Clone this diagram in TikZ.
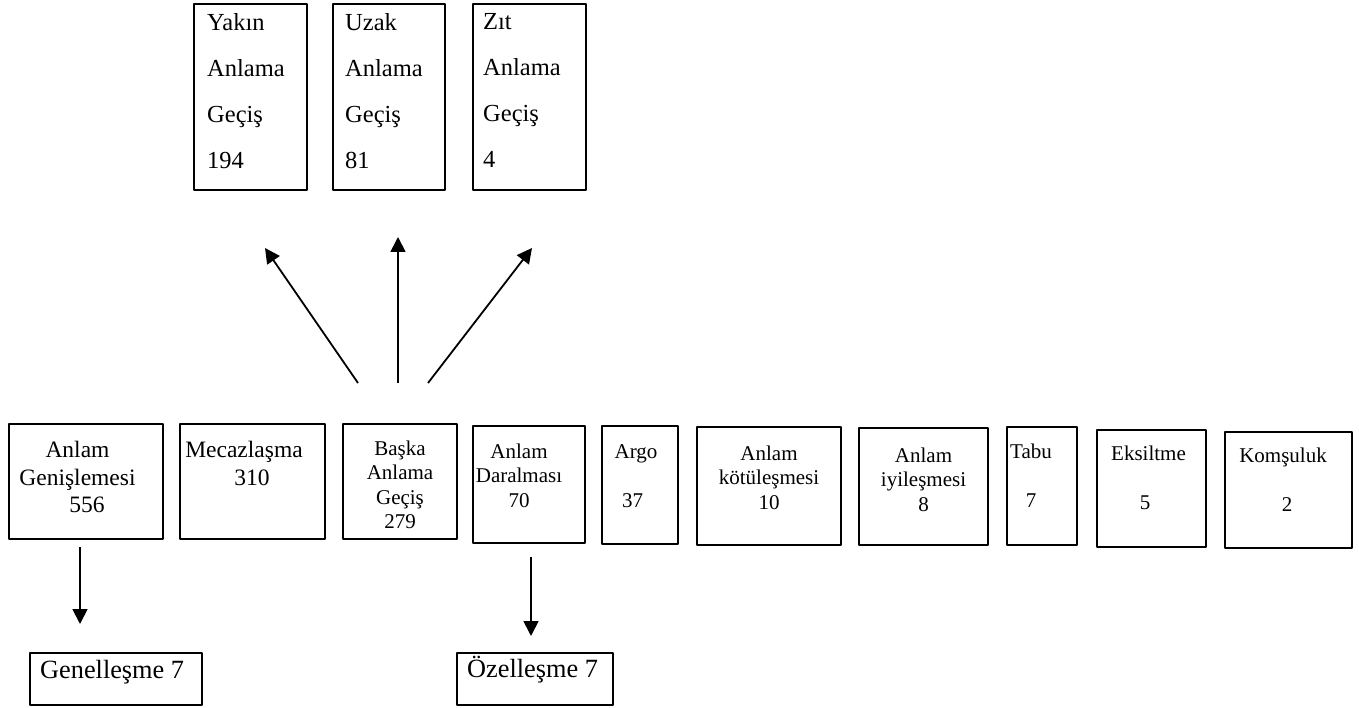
\documentclass[tikz,border=0pt]{standalone}
\usepackage{fontspec}
\setmainfont{Liberation Serif}
\usetikzlibrary{arrows.meta}

\begin{document}
\begin{tikzpicture}[x=1pt, y=-1pt, line join=round, >={Triangle[width=15pt,length=15pt]},
	kutu/.style={draw, line width=1.8pt, inner sep=0pt, outer sep=0pt, anchor=north west},
	ince/.style={kutu, line width=1.2pt},
	yazi/.style={inner sep=0pt, anchor=north, align=center, font=\fontsize{21}{24.5}\selectfont},
	buyuk/.style={yazi, font=\fontsize{23.5}{27.5}\selectfont},
	ust/.style={inner sep=0pt, anchor=north west, align=left, font=\fontsize{24.5}{46}\selectfont},
	alt/.style={inner sep=0pt, anchor=north west, font=\fontsize{26.3}{30}\selectfont},
	ok/.style={->, line width=1.8pt}]
	\useasboundingbox (0,0) rectangle (1359,708);
	%\draw[gray!40] (0,0) grid[step=50] (1359,708);
	% top row
	\node[ince, minimum width=113pt, minimum height=186pt] (yakin) at (194,4) {};
	\node[ince, minimum width=112pt, minimum height=186pt] (uzak) at (333,4) {};
	\node[ince, minimum width=113pt, minimum height=186pt] (zit) at (473,4) {};
	\node[ust] at ([xshift=13pt,yshift=-9pt]yakin.north west) {Yakın\\Anlama\\Geçiş\\194};
	\node[ust] at ([xshift=12pt,yshift=-9pt]uzak.north west) {Uzak\\Anlama\\Geçiş\\81};
	\node[ust] at ([xshift=10pt,yshift=-9.5pt]zit.north west) {Zıt\\Anlama\\Geçiş\\4};
	% middle row
	\node[kutu, minimum width=154pt, minimum height=115pt] (genis) at (9,424) {};
	\node[kutu, minimum width=145pt, minimum height=115pt] (mecaz) at (180,424) {};
	\node[kutu, minimum width=114pt, minimum height=115pt] (baska) at (343,424) {};
	\node[kutu, minimum width=112pt, minimum height=117pt] (daral) at (473,426) {};
	\node[kutu, minimum width=76pt, minimum height=118pt] (argo) at (602,426) {};
	\node[kutu, minimum width=144pt, minimum height=118pt] (kotu) at (697,427) {};
	\node[kutu, minimum width=129pt, minimum height=117pt] (iyi) at (859,428) {};
	\node[kutu, minimum width=70pt, minimum height=118pt] (tabu) at (1007,427) {};
	\node[kutu, minimum width=109pt, minimum height=117pt] (eksil) at (1097,430) {};
	\node[kutu, minimum width=127pt, minimum height=116pt] (komsu) at (1225,432) {};
	\node[buyuk] at ([xshift=-8.5pt,yshift=-17pt]genis.north) {Anlam\\Genişlemesi\\\hspace*{19pt}556};
	\node[buyuk] at ([xshift=-8.5pt,yshift=-17pt]mecaz.north) {Mecazlaşma\\\hspace*{16pt}310};
	\node[yazi] at ([yshift=-16.7pt]baska.north) {Başka\\Anlama\\Geçiş\\279};
	\node[yazi] at ([xshift=-10pt,yshift=-17.7pt]daral.north) {Anlam\\Daralması\\70};
	\node[yazi] at ([xshift=-4pt,yshift=-18pt]argo.north) {Argo\\[24.5pt]37\hspace*{7pt}};
	\node[yazi] at ([yshift=-18.7pt]kotu.north) {Anlam\\kötüleşmesi\\10};
	\node[yazi] at ([yshift=-19.7pt]iyi.north) {Anlam\\iyileşmesi\\8};
	\node[yazi] at ([xshift=-11pt,yshift=-16.7pt]tabu.north) {Tabu\\[24.5pt]7};
	\node[yazi] at ([xshift=-3pt,yshift=-15.7pt]eksil.north) {Eksiltme\\[24.5pt]5\hspace*{7pt}};
	\node[yazi] at ([xshift=-5.5pt,yshift=-15.7pt]komsu.north) {Komşuluk\\[24.5pt]\hspace*{8pt}2};
	% bottom row
	\node[ince, minimum width=172pt, minimum height=52pt] (genel) at (30,653) {};
	\node[ince, minimum width=156pt, minimum height=52pt] (ozel) at (457,653) {};
	\node[alt] at ([xshift=10pt,yshift=-7pt]genel.north west) {Genelleşme 7};
	\node[alt] at ([xshift=10pt,yshift=-3pt]ozel.north west) {Özelleşme 7};
	% arrows
	\draw[ok] ([xshift=-42pt,yshift=41pt]baska.north) -- ([xshift=14.5pt,yshift=-58pt]yakin.south);
	\draw[ok] ([xshift=-2pt,yshift=41pt]baska.north) -- ([xshift=9pt,yshift=-47pt]uzak.south);
	\draw[ok] ([xshift=28pt,yshift=41pt]baska.north) -- ([xshift=2.5pt,yshift=-58pt]zit.south);
	\draw[ok] ([xshift=-6pt,yshift=-8pt]genis.south) -- ([xshift=-36pt,yshift=29pt]genel.north);
	\draw[ok] ([xshift=2pt,yshift=-14pt]daral.south) -- ([xshift=-4pt,yshift=17pt]ozel.north);
\end{tikzpicture}
\end{document}
